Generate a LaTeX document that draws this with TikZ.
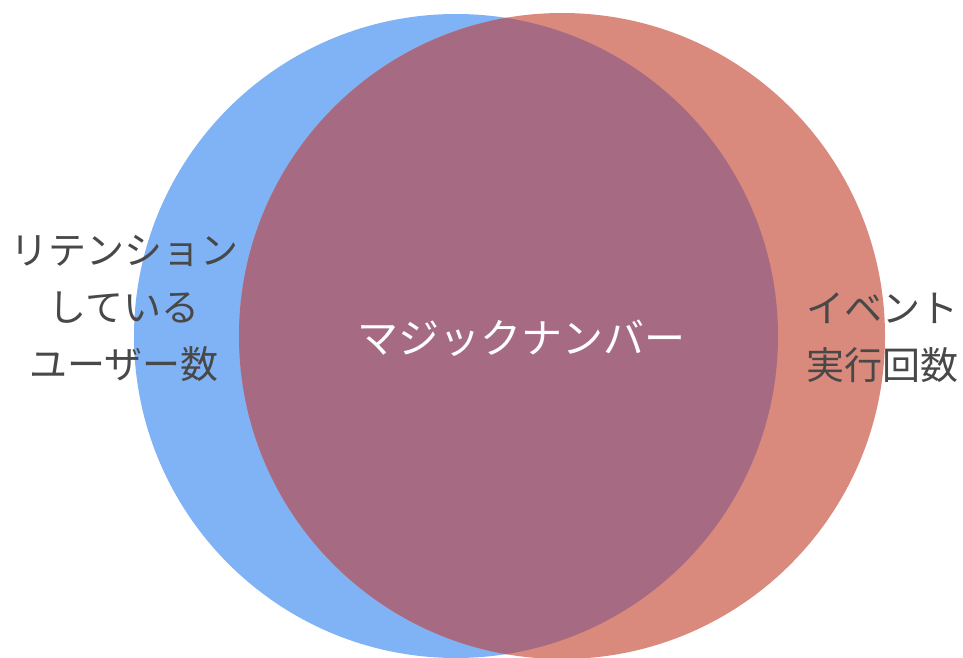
\documentclass[tikz,border=0pt]{standalone}
\usepackage{fontspec}
\newfontfamily\jpfont{Noto Sans CJK JP}
\definecolor{bluec}{RGB}{128,179,245}
\definecolor{redc}{RGB}{218,137,125}
\definecolor{overc}{RGB}{166,107,130}
\definecolor{txtc}{RGB}{72,72,72}
\tikzset{
  sidelabel/.style={text=txtc, align=center, font=\jpfont\fontsize{38}{57}\selectfont, inner sep=0pt},
  centerlabel/.style={text=white, font=\jpfont\fontsize{41}{46}\selectfont, inner sep=0pt}
}
\begin{document}
\begin{tikzpicture}[x=1pt,y=-1pt]
\useasboundingbox (0,0) rectangle (963,658);
\fill[bluec] (456,336) circle (322);
\fill[redc] (562,336) circle (323);
\begin{scope}
  \clip (456,336) circle (322);
  \fill[overc] (562,336) circle (323);
\end{scope}
\node[sidelabel] (left) at (124,308) {リテンション\\している\\ユーザー数};
\node[sidelabel] (right) at (882,338) {イベント\\実行回数};
\node[centerlabel] (center) at (521,338) {マジックナンバー};
\end{tikzpicture}
\end{document}
